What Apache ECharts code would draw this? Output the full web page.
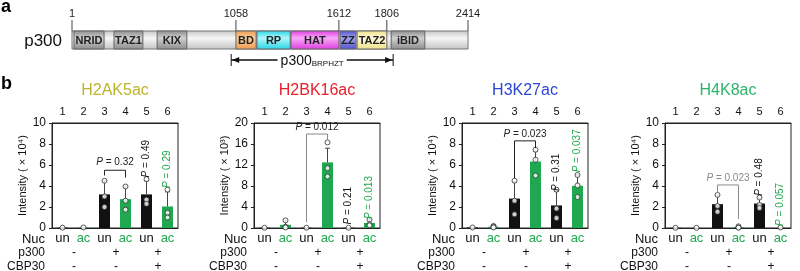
<!DOCTYPE html>
<html><head><meta charset="utf-8">
<script src="https://cdn.jsdelivr.net/npm/echarts@6/dist/echarts.min.js"></script>
<style>html,body{margin:0;padding:0;background:#fff}#c{width:800px;height:271px}</style>
</head><body><div id="c"></div>
<script>
// ---------- Panel a data (schematic positions, % of full-length bar) ----------
const domainNames = ['NRID', 'TAZ1', 'KIX', 'BD', 'RP', 'HAT', 'ZZ', 'TAZ2', 'iBID'];
const domainStart = [0.5, 10.6, 21.5, 41.4, 46.7, 55.3, 67.7, 72.0, 80.6];
const domainEnd   = [8.1, 17.9, 29.0, 46.5, 55.1, 67.4, 71.7, 79.5, 89.1];
const residueLabels = ['1', '1058', '1612', '1806', '2414'];
const residuePos = [0, 41.4, 67.4, 79.5, 100];
const constructRange = [40.2, 81.1];
const proteinName = 'p300';

// ---------- Panel b data ----------
const colNumbers = ['1', '2', '3', '4', '5', '6'];
const nucRow = ['un', 'ac', 'un', 'ac', 'un', 'ac'];
const rowLabels = ['Nuc', 'p300', 'CBP30'];
const p300Row = ['-', '+', '+'];
const cbp30Row = ['-', '-', '+'];
const panelTitles = ['H2AK5ac', 'H2BK16ac', 'H3K27ac', 'H4K8ac'];
const yMaxes = [10, 20, 10, 10];
const yIntervals = [2, 4, 2, 2];
const yExponents = ['⁴', '³', '⁴', '⁴'];

const h2ak5acMean = [0.03, 0.05, 3.2, 2.75, 3.2, 2.05];
const h2ak5acSD = [0, 0, 1.3, 1.15, 1.3, 1.4];
const h2ak5acPoints = [[0.03], [0.05], [4.5, 3.0, 2.0], [3.95, 2.6, 1.75], [4.65, 2.7, 2.3], [3.65, 1.45, 1.0]];

const h2bk16acMean = [0.05, 0.6, 0.05, 12.5, 0.05, 0.95];
const h2bk16acSD = [0, 0.75, 0, 2.7, 0, 0.6];
const h2bk16acPoints = [[0.05], [1.45, 0.25, 0.1], [0.05], [16.3, 11.4, 9.8], [0.05], [1.6, 0.7, 0.5]];

const h3k27acMean = [0.05, 0.12, 2.8, 6.33, 2.15, 4.02];
const h3k27acSD = [0, 0.08, 1.6, 1.0, 1.35, 1.05];
const h3k27acPoints = [[0.05], [0.2, 0.12, 0.05], [4.5, 2.6, 1.3], [7.45, 6.5, 5.0], [3.65, 1.85, 0.95], [5.05, 4.05, 2.95]];

const h4k8acMean = [0.02, 0.02, 2.27, 0.08, 2.33, 0.02];
const h4k8acSD = [0, 0, 0.85, 0.07, 0.5, 0];
const h4k8acPoints = [[0.02], [0.02], [3.15, 2.1, 1.55], [0.16, 0.05, 0.03], [2.9, 2.2, 1.9], [0.05]];

const bracketCols = [[2, 3], [2, 3], [2, 3], [2, 3]];
const bracketTop = [5.5, 17.9, 8.3, 4.1];
const bracketLegs = [[5.0, 4.8], [1.1, 16.8], [4.75, 7.6], [3.35, 0.85]];
const bracketP = ['0.32', '0.012', '0.023', '0.023'];
const bracketTextY = [6.25, 19.2, 8.95, 4.75];
const col5P = ['0.49', '0.21', '0.31', '0.48'];
const col5PY = [6.6, 4.25, 5.3, 4.85];
const col6P = ['0.29', '0.013', '0.037', '0.057'];
const col6PY = [5.6, 5.8, 7.35, 2.25];

// ---------- styles ----------
const FONT = '"Liberation Sans", Arial, sans-serif';
const GREEN = '#1fa84f';
const BLACK = '#111';
const titleColors = ['#bdb52e', '#e8202a', '#2b45d6', '#2cb36a'];
const bracketColors = ['#222', '#8a8a8a', '#222', '#8a8a8a'];
const bracketTextColors = ['#222', '#222', '#222', '#8a8a8a'];
const domainColors = {
  NRID: ['#8c8c8c', '#cfcfcf'], TAZ1: ['#8c8c8c', '#cfcfcf'], KIX: ['#8c8c8c', '#cfcfcf'], iBID: ['#8c8c8c', '#cfcfcf'],
  BD: ['#ee9a4c', '#fbd0a0'], RP: ['#28d4e6', '#b0f6fb'], HAT: ['#dd3cdd', '#f9a8f9'],
  ZZ: ['#5252cc', '#a2a2f2'], TAZ2: ['#efe08a', '#fffad8']
};
const panelLefts = [52, 254, 462, 665];
const PLOT_TOP = 123, PLOT_W = 126, PLOT_H = 105;

const means = [h2ak5acMean, h2bk16acMean, h3k27acMean, h4k8acMean];
const sds = [h2ak5acSD, h2bk16acSD, h3k27acSD, h4k8acSD];
const pts = [h2ak5acPoints, h2bk16acPoints, h3k27acPoints, h4k8acPoints];

function vgrad(c) {
  return { type: 'linear', x: 0, y: 0, x2: 0, y2: 1, colorStops: [
    { offset: 0, color: c[0] }, { offset: 0.4, color: c[1] }, { offset: 1, color: c[0] }] };
}
function txt(x, y, text, color, size, align, extra) {
  return Object.assign({
    type: 'text', x: x, y: y,
    style: { text: text, fill: color, fontSize: size, fontFamily: FONT,
      align: align || 'center', textAlign: align || 'center',
      verticalAlign: 'middle', textVerticalAlign: 'middle' }
  }, extra || {});
}
function ptxt(x, y, value, color, rotate) {
  const e = {
    type: 'text', x: x, y: y, rotation: rotate ? Math.PI / 2 : 0,
    style: { text: '{i|P} = ' + value, fill: color, fontSize: 10, fontFamily: FONT,
      align: 'center', textAlign: 'center', verticalAlign: 'middle', textVerticalAlign: 'middle',
      rich: { i: { fontStyle: 'italic', fontSize: 10, fontFamily: FONT, fill: color, color: color } } }
  };
  return e;
}

const grids = [], xAxes = [], yAxes = [], series = [], graphics = [];

panelTitles.forEach((title, i) => {
  grids.push({ left: panelLefts[i], top: PLOT_TOP, width: PLOT_W, height: PLOT_H,
    show: true, borderColor: '#222', borderWidth: 1, backgroundColor: 'transparent' });
  xAxes.push({
    type: 'category', gridIndex: i, data: colNumbers, position: 'bottom',
    axisLine: { lineStyle: { color: '#222' } }, axisTick: { show: false },
    axisLabel: { margin: 4, interval: 0, fontFamily: FONT, fontSize: 13,
      formatter: (v, idx) => nucRow[idx] === 'ac' ? '{g|ac}' : '{k|un}',
      rich: { g: { color: GREEN, fontSize: 13, fontFamily: FONT }, k: { color: BLACK, fontSize: 13, fontFamily: FONT } } }
  });
  xAxes.push({
    type: 'category', gridIndex: i, data: colNumbers, position: 'top',
    axisLine: { lineStyle: { color: '#222' } }, axisTick: { show: false },
    axisLabel: { margin: 6, interval: 0, fontFamily: FONT, fontSize: 11, color: BLACK }
  });
  yAxes.push({
    type: 'value', gridIndex: i, min: 0, max: yMaxes[i], interval: yIntervals[i],
    splitLine: { show: false },
    axisLine: { show: true, lineStyle: { color: '#222' } },
    axisTick: { show: true, length: 3, lineStyle: { color: '#222' } },
    axisLabel: { margin: 6, fontFamily: FONT, fontSize: 12, color: BLACK },
    name: 'Intensity ( × 10' + yExponents[i] + ')', nameLocation: 'middle', nameGap: 18,
    nameTextStyle: { fontFamily: FONT, fontSize: 11, color: BLACK }
  });

  graphics.push(txt(panelLefts[i] + PLOT_W / 2, 91, title, titleColors[i], 16, 'center'));

  series.push({
    type: 'bar', xAxisIndex: 2 * i, yAxisIndex: i, barWidth: 11, z: 2,
    data: means[i].map((m, k) => ({ value: m, itemStyle: { color: nucRow[k] === 'ac' ? GREEN : BLACK } }))
  });
  series.push({
    type: 'custom', xAxisIndex: 2 * i, yAxisIndex: i, z: 3, clip: false,
    data: means[i].map((m, k) => [k, m, sds[i][k]]),
    renderItem: (params, api) => {
      const x = api.value(0), m = api.value(1), s = api.value(2);
      if (!s) return null;
      const p0 = api.coord([x, m]), p1 = api.coord([x, m + s]);
      return { type: 'group', children: [
        { type: 'line', shape: { x1: p0[0], y1: p0[1], x2: p1[0], y2: p1[1] }, style: { stroke: '#444', lineWidth: 1 } },
        { type: 'line', shape: { x1: p1[0] - 2.5, y1: p1[1], x2: p1[0] + 2.5, y2: p1[1] }, style: { stroke: '#444', lineWidth: 1 } }
      ] };
    }
  });
  series.push({
    type: 'scatter', xAxisIndex: 2 * i, yAxisIndex: i, z: 4, symbol: 'circle', symbolSize: 5,
    itemStyle: { color: '#fff', borderColor: '#333', borderWidth: 1 },
    data: pts[i].flatMap((arr, k) => arr.map(v => [k, v]))
  });
  series.push({
    type: 'custom', xAxisIndex: 2 * i, yAxisIndex: i, z: 5, clip: false, data: [[0, 0]],
    renderItem: (params, api) => {
      const c = (x, y) => api.coord([x, y]);
      const band = api.size([1, 0])[0];
      const base = c(0, 0)[1];
      const left = c(0, 0)[0] - band / 2;
      const ch = [];
      const rowY = [base + 11.5, base + 25, base + 39];
      rowLabels.forEach((t, r) => ch.push(txt(left - 7, rowY[r], t, BLACK, r === 0 ? 13 : 12, 'right')));
      for (let j = 0; j < 3; j++) {
        const xm = (c(2 * j, 0)[0] + c(2 * j + 1, 0)[0]) / 2 + 1;
        ch.push(txt(xm, rowY[1], p300Row[j], BLACK, 12, 'center'));
        ch.push(txt(xm, rowY[2], cbp30Row[j], BLACK, 12, 'center'));
      }
      const [ca, cb] = bracketCols[i];
      const pa = c(ca, bracketLegs[i][0]), pt = c(ca, bracketTop[i]);
      const pb = c(cb, bracketTop[i]), pbl = c(cb, bracketLegs[i][1]);
      ch.push({ type: 'polyline', shape: { points: [pa, pt, pb, pbl] },
        style: { stroke: bracketColors[i], lineWidth: 1, fill: null } });
      ch.push(ptxt((pt[0] + pb[0]) / 2, c(ca, bracketTextY[i])[1], bracketP[i], bracketTextColors[i], false));
      const q5 = c(4, col5PY[i]), q6 = c(5, col6PY[i]);
      ch.push(ptxt(q5[0], q5[1], col5P[i], BLACK, true));
      ch.push(ptxt(q6[0], q6[1], col6P[i], GREEN, true));
      return { type: 'group', children: ch };
    }
  });
});

// ---------- Panel a ----------
grids.push({ left: 72, top: 31, width: 396, height: 18 });
xAxes.push({ type: 'value', gridIndex: 4, min: 0, max: 100, show: false });
yAxes.push({ type: 'value', gridIndex: 4, min: 0, max: 1, show: false });
const AX = xAxes.length - 1, AY = yAxes.length - 1;

series.push({
  type: 'custom', xAxisIndex: AX, yAxisIndex: AY, clip: false, z: 2, data: [[0, 100]],
  renderItem: (params, api) => {
    const p0 = api.coord([api.value(0), 1]), p1 = api.coord([api.value(1), 0]);
    return { type: 'rect', shape: { x: p0[0], y: p0[1], width: p1[0] - p0[0], height: p1[1] - p0[1] },
      style: { fill: vgrad(['#c4c4c4', '#f6f6f6']), stroke: '#777', lineWidth: 1 } };
  }
});
series.push({
  type: 'custom', xAxisIndex: AX, yAxisIndex: AY, clip: false, z: 3,
  data: domainNames.map((n, k) => [domainStart[k], domainEnd[k], k]),
  renderItem: (params, api) => {
    const k = api.value(2);
    const p0 = api.coord([api.value(0), 1]), p1 = api.coord([api.value(1), 0]);
    const name = domainNames[k];
    return { type: 'group', children: [
      { type: 'rect', shape: { x: p0[0], y: p0[1], width: p1[0] - p0[0], height: p1[1] - p0[1] },
        style: { fill: vgrad(domainColors[name]), stroke: '#666', lineWidth: 1 } },
      { type: 'text', x: (p0[0] + p1[0]) / 2, y: (p0[1] + p1[1]) / 2 + 0.5,
        style: { text: name, fill: '#222', fontSize: 11, fontWeight: 'bold', fontFamily: FONT,
          align: 'center', textAlign: 'center', verticalAlign: 'middle', textVerticalAlign: 'middle' } }
    ] };
  }
});
series.push({
  type: 'custom', xAxisIndex: AX, yAxisIndex: AY, clip: false, z: 3,
  data: residuePos.map((p, k) => [p, k]),
  renderItem: (params, api) => {
    const p = api.coord([api.value(0), 1]);
    return { type: 'group', children: [
      { type: 'line', shape: { x1: p[0], y1: p[1], x2: p[0], y2: p[1] - 11 }, style: { stroke: '#444', lineWidth: 1 } },
      txt(p[0], p[1] - 17, residueLabels[api.value(1)], '#222', 11, 'center')
    ] };
  }
});
series.push({
  type: 'custom', xAxisIndex: AX, yAxisIndex: AY, clip: false, z: 3,
  data: [[constructRange[0], constructRange[1]]],
  renderItem: (params, api) => {
    const a = api.coord([api.value(0), 0]), b = api.coord([api.value(1), 0]);
    const y = a[1] + 11;
    const mid = (a[0] + b[0]) / 2;
    return { type: 'group', children: [
      { type: 'line', shape: { x1: a[0], y1: y, x2: b[0], y2: y }, style: { stroke: '#111', lineWidth: 1.3 } },
      { type: 'line', shape: { x1: a[0], y1: y - 6, x2: a[0], y2: y + 6 }, style: { stroke: '#111', lineWidth: 1 } },
      { type: 'line', shape: { x1: b[0], y1: y - 6, x2: b[0], y2: y + 6 }, style: { stroke: '#111', lineWidth: 1 } },
      { type: 'polygon', shape: { points: [[a[0] + 1, y], [a[0] + 8, y - 3], [a[0] + 8, y + 3]] }, style: { fill: '#111' } },
      { type: 'polygon', shape: { points: [[b[0] - 1, y], [b[0] - 8, y - 3], [b[0] - 8, y + 3]] }, style: { fill: '#111' } },
      { type: 'text', x: mid, y: y + 1,
        style: { text: 'p300{s|BRPHZT}', fill: '#111', fontSize: 14, fontFamily: FONT,
          align: 'center', textAlign: 'center', verticalAlign: 'middle', textVerticalAlign: 'middle',
          backgroundColor: '#fff', padding: [0, 3, 0, 3],
          rich: { s: { fontSize: 8, fontFamily: FONT, fill: '#111', color: '#111', verticalAlign: 'bottom', lineHeight: 14, padding: [6, 0, 0, 0] } } } }
    ] };
  }
});

graphics.push(txt(62, 41, proteinName, '#111', 17, 'right'));
graphics.push({ type: 'text', x: 1, y: 7, style: { text: 'a', fill: '#000', fontSize: 18, fontWeight: 'bold', fontFamily: FONT, align: 'left', textAlign: 'left', verticalAlign: 'middle', textVerticalAlign: 'middle' } });
graphics.push({ type: 'text', x: 1, y: 84, style: { text: 'b', fill: '#000', fontSize: 18, fontWeight: 'bold', fontFamily: FONT, align: 'left', textAlign: 'left', verticalAlign: 'middle', textVerticalAlign: 'middle' } });

const chart = echarts.init(document.getElementById('c'), null, { renderer: 'canvas' });
chart.setOption({
  animation: false,
  backgroundColor: '#fff',
  grid: grids, xAxis: xAxes, yAxis: yAxes, series: series, graphic: graphics
});
</script>
</body></html>
